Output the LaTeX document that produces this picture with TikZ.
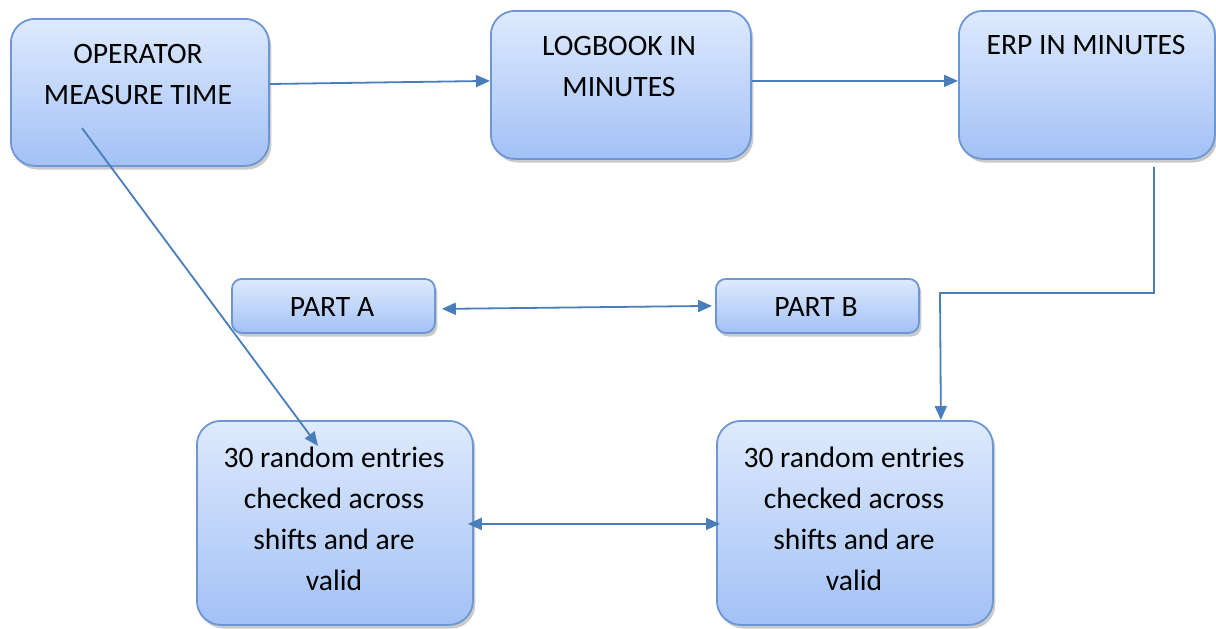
\documentclass[tikz,border=0pt]{standalone}
\usepackage{fontspec}
\setmainfont{Carlito}
\usetikzlibrary{arrows.meta,shadows}
\definecolor{topc}{HTML}{DEEAFD}
\definecolor{botc}{HTML}{A3C1F6}
\definecolor{edgec}{HTML}{6E96D3}
\definecolor{linec}{HTML}{4A7EBB}
\begin{document}
\begin{tikzpicture}[x=0.5pt,y=-0.5pt,
  box/.style={draw=edgec, line width=0.9pt, top color=topc, bottom color=botc,
    rounded corners=12pt, anchor=north west, inner sep=0pt,
    drop shadow={shadow xshift=1.2pt,shadow yshift=-1.8pt,opacity=0.35,fill=black!60}},
  smallbox/.style={box, rounded corners=5pt},
  lbl/.style={align=center, inner sep=0pt, font=\fontsize{14.8}{20.5}\selectfont, text=black},
  conn/.style={draw=linec, line width=0.9pt, -{Triangle[length=7pt,width=6pt]}},
  dconn/.style={draw=linec, line width=0.9pt, {Triangle[length=7pt,width=6pt]}-{Triangle[length=7pt,width=6pt]}}]
\useasboundingbox (0,0) rectangle (1216,628);
% boxes
\node[box, minimum width=129pt, minimum height=73.5pt] (b1) at (10,18) {};
\node[box, minimum width=130pt, minimum height=74pt] (b2) at (490,10) {};
\node[box, minimum width=128pt, minimum height=74pt] (b3) at (958,10) {};
\node[smallbox, minimum width=101.5pt, minimum height=27pt] (pa) at (231,278) {};
\node[smallbox, minimum width=101.5pt, minimum height=27pt] (pb) at (715,278) {};
\node[box, minimum width=138pt, minimum height=102pt] (b6) at (196,420) {};
\node[box, minimum width=138pt, minimum height=102pt] (b7) at (716,420) {};
% texts
\node[lbl] (t1) at (138,74) {OPERATOR\\MEASURE TIME};
\node[lbl] (t2) at (619,66) {LOGBOOK IN\\MINUTES};
\node[lbl] (t3) at (1086,45) {ERP IN MINUTES};
\node[lbl] (ta) at (332,307) {PART A};
\node[lbl] (tb) at (816,307) {PART B};
\node[lbl] (t6) at (334,519) {30 random entries\\checked across\\shifts and are\\valid};
\node[lbl] (t7) at (854,519) {30 random entries\\checked across\\shifts and are\\valid};
% connectors
\draw[conn] ([yshift=4.2pt]b1.east) -- ([yshift=2pt]b2.west);
\draw[conn] ([yshift=2pt]b2.east) -- ([yshift=2pt]b3.west);
\coordinate (k) at (940,293);
\draw[conn] ([xshift=33.5pt,yshift=-3.5pt]b3.south) |- (k) -- ([xshift=43pt]b7.north);
\draw[dconn] ([xshift=3pt,yshift=-1.5pt]pa.east) -- ([xshift=-1.5pt]pb.west);
\coordinate (d1) at (82,128);
\coordinate (d2) at (318,446);
\draw[conn] (d1) -- (d2);
\draw[dconn] ([xshift=-3pt,yshift=-0.5pt]b6.east) -- ([xshift=2pt,yshift=-0.5pt]b7.west);
\end{tikzpicture}
\end{document}
